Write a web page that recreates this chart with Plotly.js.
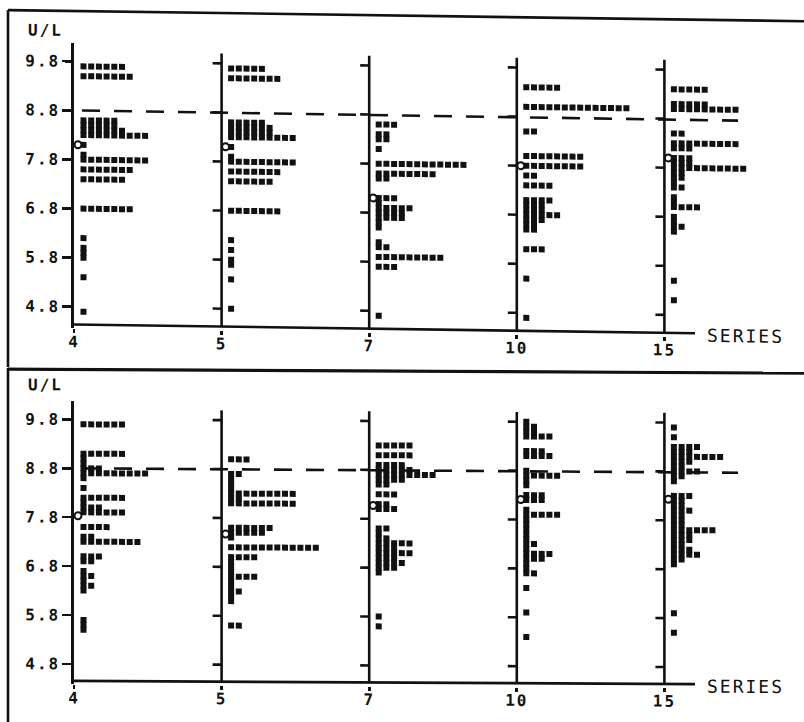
<!DOCTYPE html>
<html><head><meta charset="utf-8">
<script src="https://cdn.plot.ly/plotly-3.0.1.min.js"></script>
<style>
html,body{margin:0;padding:0;background:#fff;overflow:hidden;width:804px;height:722px}
#top,#bot{position:absolute;left:0;width:804px;transform-origin:0 0}
#top{top:0;height:370px;transform:skewY(0.8deg)}
#bot{top:367px;height:355px;transform:skewY(0.3deg)}
.xtick text,.ytick text,.annotation-text{letter-spacing:2px}
</style></head><body>
<div id="bot"></div><div id="top"></div>
<script>
// ---------------- DATA ----------------
const seriesLabels = ['4', '5', '7', '10', '15'];
const yTickVals = [4.8, 5.8, 6.8, 7.8, 8.8, 9.8];
const yTickText = ['4.8', '5.8', '6.8', '7.8', '8.8', '9.8'];
const yAxisLabel = 'U/L';
const xAxisLabel = 'SERIES';

// upper chart: value levels (U/L) and number of results at each level
const topLevels4 = [9.7, 9.5, 8.6, 8.5, 8.4, 8.3, 8.1, 7.9, 7.8, 7.6, 7.4, 6.8, 6.2, 6.0, 5.9, 5.8, 5.4, 4.7];
const topCounts4 = [6, 7, 5, 5, 6, 9, 1, 1, 9, 7, 6, 7, 1, 1, 1, 1, 1, 1];
const topLevels5 = [9.7, 9.5, 8.6, 8.5, 8.4, 8.3, 8.1, 7.9, 7.8, 7.6, 7.4, 6.8, 6.2, 6.0, 5.8, 5.7, 5.4, 4.8];
const topCounts5 = [5, 7, 5, 6, 6, 9, 1, 1, 9, 7, 6, 7, 1, 1, 1, 1, 1, 1];
const topLevels7 = [8.6, 8.4, 8.3, 8.1, 7.8, 7.6, 7.5, 7.1, 7.0, 6.9, 6.8, 6.7, 6.6, 6.5, 6.2, 6.1, 5.9, 5.7, 4.7];
const topCounts7 = [3, 2, 2, 1, 12, 8, 2, 3, 1, 5, 4, 4, 1, 1, 1, 2, 9, 3, 1];
const topLevels10 = [9.4, 9.0, 8.5, 8.0, 7.8, 7.6, 7.4, 7.1, 7.0, 6.9, 6.8, 6.7, 6.6, 6.5, 6.1, 5.5, 4.7];
const topCounts10 = [5, 14, 2, 8, 8, 2, 4, 4, 3, 3, 5, 3, 2, 2, 3, 1, 1];
const topLevels15 = [9.4, 9.1, 9.0, 8.5, 8.3, 8.2, 8.0, 7.9, 7.8, 7.7, 7.6, 7.5, 7.4, 7.2, 7.1, 7.0, 6.8, 6.7, 6.6, 6.5, 5.5, 5.1];
const topCounts15 = [5, 5, 9, 2, 9, 3, 3, 3, 10, 2, 2, 1, 2, 1, 1, 4, 1, 1, 2, 1, 1, 1];
const topMeans = [8.1, 8.1, 7.1, 7.8, 8.0];
const topTarget = [8.8, 8.78];   // dashed line, start / end

// lower chart
const botLevels4 = [9.7, 9.1, 9.0, 8.9, 8.8, 8.7, 8.6, 8.4, 8.2, 8.1, 8.0, 7.9, 7.6, 7.4, 7.3, 7.0, 6.9, 6.7, 6.6, 6.5, 6.4, 6.3, 5.7, 5.6, 5.5];
const botCounts4 = [6, 6, 1, 1, 3, 9, 1, 1, 6, 1, 3, 6, 4, 2, 8, 3, 2, 1, 2, 1, 2, 1, 1, 1, 1];
const botLevels5 = [9.0, 8.7, 8.6, 8.5, 8.4, 8.3, 8.2, 8.1, 7.6, 7.5, 7.4, 7.2, 7.0, 6.9, 6.8, 6.7, 6.6, 6.5, 6.4, 6.3, 6.2, 6.1, 5.6];
const botCounts5 = [3, 2, 1, 1, 1, 9, 2, 9, 6, 5, 1, 12, 4, 1, 1, 1, 4, 1, 1, 2, 1, 1, 2];
const botLevels7 = [9.3, 9.1, 8.9, 8.8, 8.7, 8.6, 8.5, 8.3, 8.1, 8.0, 7.6, 7.5, 7.4, 7.3, 7.2, 7.1, 7.0, 6.9, 6.8, 6.7, 5.8, 5.6];
const botCounts7 = [5, 5, 4, 5, 8, 4, 2, 3, 2, 3, 2, 1, 2, 5, 3, 5, 3, 4, 3, 1, 1, 1];
const botLevels10 = [9.8, 9.7, 9.6, 9.5, 9.2, 9.1, 8.8, 8.7, 8.6, 8.5, 8.3, 8.2, 8.0, 7.9, 7.8, 7.7, 7.6, 7.5, 7.4, 7.3, 7.2, 7.1, 7.0, 6.9, 6.8, 6.7, 6.4, 5.9, 5.4];
const botCounts10 = [1, 2, 2, 4, 3, 4, 1, 5, 1, 1, 3, 3, 1, 5, 1, 1, 1, 1, 1, 2, 1, 4, 3, 1, 1, 2, 1, 1, 1];
const botLevels15 = [9.7, 9.5, 9.3, 9.2, 9.1, 9.0, 8.9, 8.8, 8.7, 8.6, 8.3, 8.2, 8.1, 8.0, 7.9, 7.8, 7.7, 7.6, 7.5, 7.4, 7.3, 7.2, 7.1, 7.0, 6.9, 5.9, 5.5];
const botCounts15 = [1, 1, 4, 3, 7, 3, 2, 4, 2, 1, 3, 2, 2, 3, 2, 2, 2, 6, 3, 3, 2, 3, 4, 2, 1, 1, 1];
const botMeans = [7.83, 7.47, 8.07, 8.21, 8.23];
const botTarget = [8.8, 8.78];

// ---------------- DRAWING ----------------
const INK = '#111';
const W = 804;
const PLOT_L = 74, PLOT_R = 772, STEP = 147.6;          // px
const XMAX = (PLOT_R - PLOT_L) / STEP;
const OFF = 9.5, PITCH = 7.7, MEAN_OFF = 4, TICK = 9;    // px
const AXIS_END = (695 - PLOT_L) / STEP;
const DASH_START = (82 - PLOT_L) / STEP, DASH_END = (738 - PLOT_L) / STEP;
const SUB_TOP = 10.0;
const LW = 2.6;
const tickFont = {family: 'DejaVu Sans Mono', size: 16, color: INK, weight: 'bold'};

function panel(divId, cfg, levelsList, countsList, means, target) {
  const H = cfg.H;
  const yTop = 9.8 + (cfg.tick98 - cfg.topPx) / cfg.scale;
  const yAxis = 9.8 - (cfg.axisPx - cfg.tick98) / cfg.scale;
  const yMin = yAxis - 3.5 / cfg.scale;
  const xs = [], ys = [];
  levelsList.forEach((levels, gi) => {
    levels.forEach((v, r) => {
      for (let k = 0; k < countsList[gi][r]; k++) {
        xs.push(gi + (OFF + k * PITCH) / STEP);
        ys.push(v);
      }
    });
  });
  const traces = [
    {type: 'scatter', mode: 'markers', x: xs, y: ys, hoverinfo: 'skip', cliponaxis: false,
     marker: {symbol: 'square', size: 6, color: INK, line: {width: 0}}},
    {type: 'scatter', mode: 'markers', x: means.map((m, gi) => gi + MEAN_OFF / STEP), y: means,
     hoverinfo: 'skip', cliponaxis: false,
     marker: {symbol: 'circle', size: 7, color: '#fff', line: {color: INK, width: 2}}}
  ];
  const shapes = [];
  const ln = (x0, y0, x1, y1, ref, extra) => Object.assign({type: 'line', x0, y0, x1, y1,
      xref: ref ? 'paper' : 'x', yref: ref ? 'paper' : 'y', layer: 'below',
      line: {color: INK, width: LW}}, extra || {});
  // x axis line
  shapes.push(ln(0, yAxis, AXIS_END, yAxis));
  // secondary vertical axes with their ticks
  for (let gi = 1; gi < seriesLabels.length; gi++) {
    shapes.push(ln(gi, yAxis, gi, SUB_TOP));
    yTickVals.forEach(tv => shapes.push(ln(gi - TICK / STEP, tv, gi, tv)));
  }
  // dashed target line
  shapes.push(ln(DASH_START, target[0], DASH_END, target[1], false, {line: {color: INK, width: 2.6, dash: '18px,14px'}}));
  // panel border
  cfg.border.forEach(b => shapes.push(ln(b[0] / W, (H - b[1]) / H, b[2] / W, (H - b[3]) / H, true,
      {line: {color: INK, width: b[4] || LW}})));

  const layout = {
    width: W, height: H, autosize: false,
    margin: {l: 0, r: 0, t: 0, b: 0, pad: 0},
    paper_bgcolor: 'rgba(0,0,0,0)', plot_bgcolor: 'rgba(0,0,0,0)',
    showlegend: false,
    xaxis: {domain: [PLOT_L / W, PLOT_R / W], range: [0, XMAX], tickvals: seriesLabels.map((s, i) => i),
            ticktext: seriesLabels, ticks: 'outside', ticklen: 4, tickwidth: LW, tickcolor: INK,
            showline: false, showgrid: false, zeroline: false, tickfont: tickFont,
            ticklabelstandoff: -5, fixedrange: true},
    yaxis: {domain: [(H - cfg.axisPx - 3.5) / H, (H - cfg.topPx) / H], range: [yMin, yTop],
            tickvals: yTickVals, ticktext: yTickText, ticks: 'outside', ticklen: TICK, tickwidth: LW,
            tickcolor: INK, showline: true, linewidth: LW, linecolor: INK, showgrid: false,
            zeroline: false, tickfont: tickFont, ticklabelstandoff: -1, fixedrange: true},
    shapes: shapes,
    annotations: [
      {text: yAxisLabel, xref: 'paper', yref: 'paper', x: 26 / W, y: (H - cfg.ulY) / H,
       xanchor: 'left', yanchor: 'middle', showarrow: false, font: tickFont},
      {text: xAxisLabel, xref: 'paper', yref: 'paper', x: 705 / W, y: (H - cfg.seriesY) / H,
       xanchor: 'left', yanchor: 'middle', showarrow: false,
       font: {family: 'DejaVu Sans Mono', size: 18, color: INK}}
    ]
  };
  Plotly.newPlot(divId, traces, layout, {staticPlot: true, displayModeBar: false});
}

panel('top', {H: 370, tick98: 60.3, scale: 49.06, topPx: 42, axisPx: 323.5, ulY: 30, seriesY: 325,
              border: [[8, 10, 8, 367], [8, 10, 804, 10]]},
      [topLevels4, topLevels5, topLevels7, topLevels10, topLevels15],
      [topCounts4, topCounts5, topCounts7, topCounts10, topCounts15], topMeans, topTarget);

panel('bot', {H: 355, tick98: 52, scale: 48.9, topPx: 34, axisPx: 313.5, ulY: 17, seriesY: 315,
              border: [[8, 1, 8, 355], [8, 2, 804, 2, 3.2]]},
      [botLevels4, botLevels5, botLevels7, botLevels10, botLevels15],
      [botCounts4, botCounts5, botCounts7, botCounts10, botCounts15], botMeans, botTarget);
</script>
</body></html>
